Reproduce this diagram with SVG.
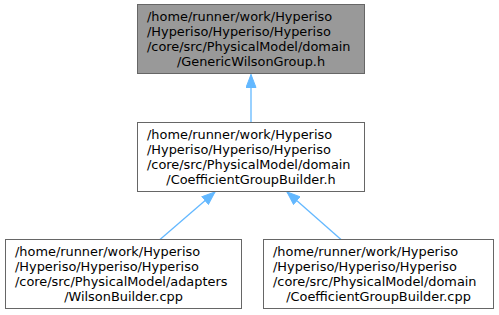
<svg xmlns="http://www.w3.org/2000/svg" width="499" height="315" viewBox="0 0 499 315">
<defs>
<style>
.box{fill:#ffffff;stroke:#666666;stroke-width:1}
.cur{fill:#999999;stroke:#666666;stroke-width:1}
text{font-family:"DejaVu Sans","Liberation Sans",sans-serif;font-size:12.9px;fill:#000000}
.c{text-anchor:middle}
.edge{stroke:#63b8ff;stroke-width:1.3;fill:none;marker-end:url(#arr)}
</style>
<marker id="arr" markerUnits="userSpaceOnUse" markerWidth="14" markerHeight="11" refX="13.5" refY="5.5" orient="auto" viewBox="0 0 14 11">
<path d="M0.5,0.5 L13.5,5.5 L0.5,10.5 z" fill="#63b8ff" stroke="#63b8ff" stroke-width="1"/>
</marker>
</defs>
<g id="connectors">
<path class="edge" d="M251,122.5 L251,74.5"/>
<path class="edge" d="M160,239.5 L215,192"/>
<path class="edge" d="M341,239.5 L287,192"/>
</g>
<g id="node1">
<rect class="cur" x="137.5" y="4.5" width="227" height="69"/>
<text x="147" y="20.5">/home/runner/work/Hyperiso</text>
<text x="147" y="35.5">/Hyperiso/Hyperiso/Hyperiso</text>
<text x="147" y="50.5">/core/src/PhysicalModel/domain</text>
<text class="c" x="251" y="65.5">/GenericWilsonGroup.h</text>
</g>
<g id="node2">
<rect class="box" x="137.5" y="122.5" width="227" height="69"/>
<text x="147" y="138.5">/home/runner/work/Hyperiso</text>
<text x="147" y="153.5">/Hyperiso/Hyperiso/Hyperiso</text>
<text x="147" y="168.5">/core/src/PhysicalModel/domain</text>
<text class="c" x="251" y="183.5">/CoefficientGroupBuilder.h</text>
</g>
<g id="node3">
<rect class="box" x="5.5" y="239.5" width="236" height="69"/>
<text x="15" y="255.5">/home/runner/work/Hyperiso</text>
<text x="15" y="270.5">/Hyperiso/Hyperiso/Hyperiso</text>
<text x="15" y="285.5">/core/src/PhysicalModel/adapters</text>
<text class="c" x="123.5" y="300.5">/WilsonBuilder.cpp</text>
</g>
<g id="node4">
<rect class="box" x="263.5" y="239.5" width="230" height="69"/>
<text x="273" y="255.5">/home/runner/work/Hyperiso</text>
<text x="273" y="270.5">/Hyperiso/Hyperiso/Hyperiso</text>
<text x="273" y="285.5">/core/src/PhysicalModel/domain</text>
<text class="c" x="378.5" y="300.5">/CoefficientGroupBuilder.cpp</text>
</g>
</svg>
